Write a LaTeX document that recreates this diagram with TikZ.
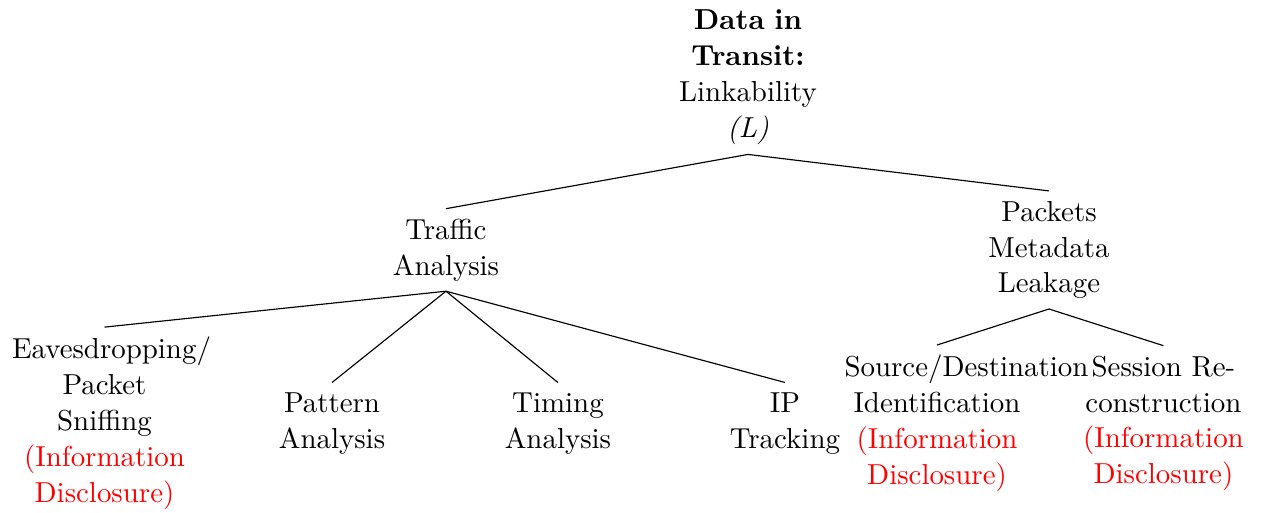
\documentclass[tikz,border=0pt]{standalone}
\usepackage{xcolor}
\usepackage{tikz}
\tikzset{
  tnode/.style={align=center, text width=2.25cm, inner sep=3.33pt, font=\fontsize{10pt}{12.4pt}\selectfont},
  conn/.style={line width=0.4pt, black},
}
\newcommand{\infodisc}{\textcolor{red}{(Information}\\\textcolor{red}{Disclosure)}}

\begin{document}
\begin{tikzpicture}
  \useasboundingbox (0,0) rectangle (15.373,-6.239);
  % root
  \node[tnode] (root) at (9.097,-0.936) {\textbf{Data in}\\\textbf{Transit:}\\Linkability\\\textit{(L)}};
  % first level
  \node[tnode] (traffic) at (5.424,-3.040) {Traffic\\Analysis};
  \node[tnode] (meta) at (12.758,-3.040) {Packets\\Metadata\\Leakage};
  % leaves
  \node[tnode] (sniff) at (1.271,-5.150) {Eavesdropping/\\Packet\\Sniffing\\\infodisc};
  \node[tnode] (pattern) at (4.038,-5.150) {Pattern\\Analysis};
  \node[tnode] (timing) at (6.786,-5.150) {Timing\\Analysis};
  \node[tnode] (iptrack) at (9.547,-5.150) {IP\\Tracking};
  \node[tnode] (srcdst) at (11.396,-5.150) {Source/Destination\\Identification\\\infodisc};
  \node[tnode] (session) at (14.150,-5.150) {Session Re-\\construction\\\infodisc};
  % branches
  \draw[conn] (root.south) -- (traffic.north);
  \draw[conn] (root.south) -- (meta.north);
  \foreach \c in {sniff,pattern,timing,iptrack}
    \draw[conn] (traffic.south) -- (\c.north);
  \foreach \c in {srcdst,session}
    \draw[conn] (meta.south) -- (\c.north);
\end{tikzpicture}
\end{document}
